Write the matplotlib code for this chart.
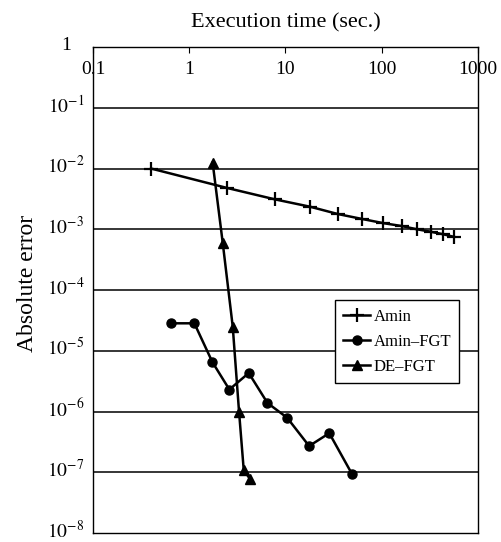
import matplotlib
matplotlib.use('Agg')
import matplotlib.pyplot as plt
import matplotlib.transforms as mtransforms
from matplotlib.ticker import FixedLocator, FixedFormatter

plt.rcParams['font.family'] = ['Liberation Serif', 'DejaVu Serif']
plt.rcParams['mathtext.fontset'] = 'stix'

# Amin
amin_t = [0.40, 2.45, 7.8, 18, 35, 62, 104, 161, 231, 323, 430, 563]
amin_err = [1.0e-2, 4.8e-3, 3.1e-3, 2.35e-3, 1.78e-3, 1.48e-3, 1.26e-3,
            1.13e-3, 1.0e-3, 9.1e-4, 8.3e-4, 7.5e-4]

# Amin-FGT
fgt_t = [0.64, 1.13, 1.74, 2.61, 4.15, 6.5, 10.4, 17.6, 28.5, 49]
fgt_err = [2.83e-5, 2.83e-5, 6.5e-6, 2.3e-6, 4.3e-6, 1.38e-6, 7.9e-7,
           2.7e-7, 4.4e-7, 9.4e-8]

# DE-FGT
de_t = [1.75, 2.23, 2.83, 3.29, 3.68, 4.28]
de_err = [1.25e-2, 5.9e-4, 2.5e-5, 1.0e-6, 1.1e-7, 7.7e-8]

xticks = [0.1, 1, 10, 100, 1000]
xlabels = ['0.1', '1', '10', '100', '1000']
yticks = [1e-8, 1e-7, 1e-6, 1e-5, 1e-4, 1e-3, 1e-2, 1e-1, 1]
ylabels = ['$10^{-8}$', '$10^{-7}$', '$10^{-6}$', '$10^{-5}$', '$10^{-4}$',
           '$10^{-3}$', '$10^{-2}$', '$10^{-1}$', '1']

fig = plt.figure(figsize=(5.02, 5.42), dpi=100)
ax = fig.add_axes([93/502, 1 - 533/542, 385/502, 486/542])

ax.set_xscale('log')
ax.set_yscale('log')
ax.set_xlim(0.1, 1000)
ax.set_ylim(1e-8, 1)

for y in yticks[1:-1]:
    ax.axhline(y, color='black', lw=1.1, zorder=1)

ax.plot(amin_t, amin_err, color='black', lw=1.8, marker='+', ms=10, mew=1.6,
        label='Amin', zorder=3)
ax.plot(fgt_t, fgt_err, color='black', lw=1.8, marker='o', ms=6.5,
        label='Amin\u2013FGT', zorder=3)
ax.plot(de_t, de_err, color='black', lw=1.8, marker='^', ms=7.5,
        label='DE\u2013FGT', zorder=3)

ax.xaxis.set_major_locator(FixedLocator(xticks))
ax.xaxis.set_major_formatter(FixedFormatter(xlabels))
ax.xaxis.set_minor_locator(FixedLocator([]))
ax.yaxis.set_major_locator(FixedLocator(yticks))
ax.yaxis.set_major_formatter(FixedFormatter(ylabels))
ax.yaxis.set_minor_locator(FixedLocator([]))

ax.tick_params(axis='x', top=True, bottom=False, labeltop=True,
               labelbottom=False, direction='in', length=4, pad=-22,
               labelsize=14)
ax.tick_params(axis='y', left=False, right=False, length=0, labelsize=14,
               pad=19.5)

# y labels centred in their column and sitting a little above the lines
shift = mtransforms.ScaledTranslation(0, 4/100, fig.dpi_scale_trans)
for lab in ax.get_yticklabels():
    lab.set_horizontalalignment('center')
    lab.set_transform(lab.get_transform() + shift)

for s in ax.spines.values():
    s.set_linewidth(1.0)

ax.set_title('Execution time (sec.)', fontsize=16, pad=14)
ax.set_ylabel('Absolute error', fontsize=17)
ax.yaxis.set_label_coords(-0.143, 0.514)

leg = ax.legend(loc='upper left', bbox_to_anchor=(0.629, 0.479),
                borderaxespad=0, fontsize=12, frameon=True, fancybox=False,
                framealpha=1, edgecolor='black', handlelength=1.6,
                handletextpad=0.2, borderpad=0.5, labelspacing=0.55)
leg.get_frame().set_linewidth(1.0)

fig.savefig('out.png', dpi=100)
